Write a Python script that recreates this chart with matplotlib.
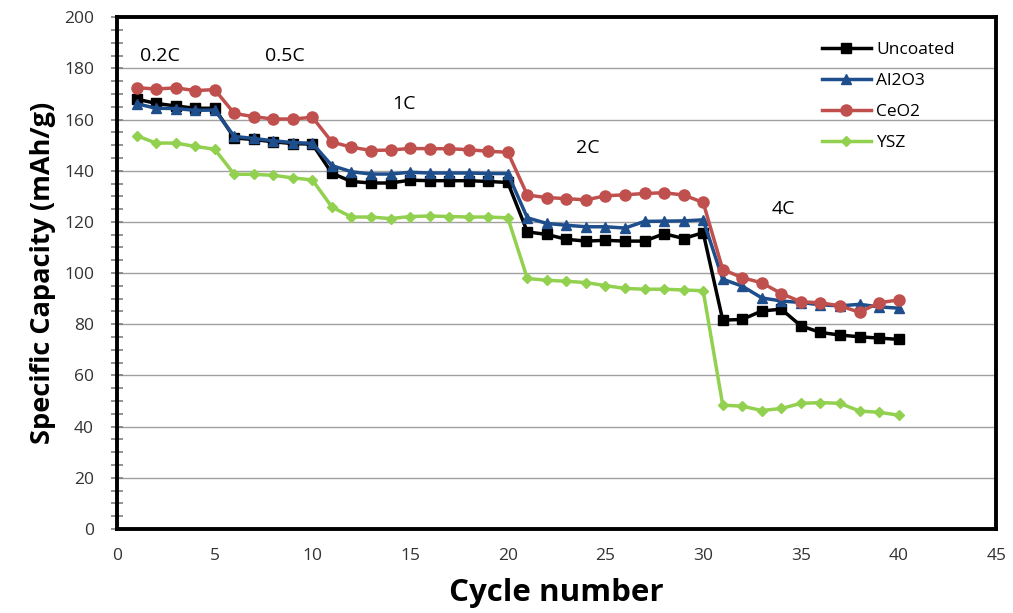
import numpy as np
import matplotlib.pyplot as plt
from matplotlib.ticker import MultipleLocator

plt.rcParams['font.family'] = ['Open Sans', 'DejaVu Sans']

cycles = np.arange(1, 41)

uncoated = [168, 166.3, 165.3, 164.4, 164.4, 152.8, 152.2, 151.3, 150.6, 150.4,
            139, 135.8, 135.2, 135.2, 136.3, 136.1, 136.1, 136.1, 135.8, 135.4,
            116.1, 115.1, 113.2, 112.5, 112.8, 112.5, 112.5, 115.4, 113.5, 115.8,
            81.6, 81.9, 85.2, 85.9, 79.4, 76.8, 75.8, 75.1, 74.6, 74.1]
al2o3 = [166.2, 164.4, 164.3, 163.6, 163.7, 153.4, 152.6, 151.7, 151.0, 150.7,
         142, 139.6, 138.7, 138.7, 139.4, 139.1, 139.1, 139.1, 138.9, 138.9,
         121.6, 119.4, 118.7, 118.1, 118.1, 117.6, 120.2, 120.3, 120.4, 120.8,
         97.6, 94.9, 90.3, 89.1, 88.5, 87.6, 87.2, 87.8, 86.8, 86.3]
ceo2 = [172.5, 171.9, 172.4, 171.3, 171.7, 162.4, 161.1, 160.2, 160.2, 160.9,
        151.2, 149.2, 147.9, 148.1, 148.7, 148.6, 148.6, 148.2, 147.6, 147.2,
        130.5, 129.5, 129.1, 128.6, 130.2, 130.6, 131.1, 131.4, 130.5, 127.6,
        101.4, 98.2, 96.2, 92, 88.8, 88.4, 87.2, 84.7, 88.4, 89.5]
ysz = [153.7, 150.8, 150.8, 149.5, 148.4, 138.6, 138.6, 138.2, 137.2, 136.4,
       125.8, 121.9, 121.9, 121.3, 122.1, 122.3, 122.1, 121.9, 121.9, 121.6,
       97.9, 97.2, 96.8, 96.3, 95.1, 94, 93.7, 93.7, 93.4, 93.1,
       48.4, 48, 46.3, 47.1, 49.1, 49.4, 49.1, 46.1, 45.6, 44.5]

rate_labels = ['0.2C', '0.5C', '1C', '2C', '4C']
rate_pos = [(2.2, 185), (8.6, 185), (14.7, 166), (24.1, 149), (34.1, 125)]

fig = plt.figure(figsize=(10.13, 6.13), dpi=100)
ax = fig.add_axes([0.1155, 0.137, 0.868, 0.835])

ax.plot(cycles, uncoated, color='black', lw=2.5, marker='s', ms=7.5, label='Uncoated')
ax.plot(cycles, al2o3, color='#1F4E8C', lw=2.5, marker='^', ms=7.5, label='Al2O3')
ax.plot(cycles, ceo2, color='#C0504D', lw=2.5, marker='o', ms=8, label='CeO2')
ax.plot(cycles, ysz, color='#92D050', lw=2.5, marker='D', ms=5, label='YSZ')

for lab, (x, y) in zip(rate_labels, rate_pos):
    ax.text(x, y, lab, fontsize=14, ha='center', va='center')

ax.set_xlim(0, 45)
ax.set_ylim(0, 200)
ax.xaxis.set_major_locator(MultipleLocator(5))
ax.yaxis.set_major_locator(MultipleLocator(20))
ax.yaxis.set_minor_locator(MultipleLocator(5))
ax.grid(axis='y', which='major', color='#a0a0a0', lw=1)
ax.set_axisbelow(True)

ax.tick_params(axis='x', length=0, labelsize=12.5, pad=14, colors='#333333')
ax.tick_params(axis='y', which='both', direction='inout', length=9, width=1.2,
               color='#808080', labelsize=12.5, labelcolor='#333333', pad=12)
for sp in ax.spines.values():
    sp.set_linewidth(2.8)
    sp.set_color('black')

ax.set_xlabel('Cycle number', fontsize=22.5, fontweight='bold', labelpad=10)
ax.set_ylabel('Specific Capacity (mAh/g)', fontsize=19.5, fontweight='bold', labelpad=6)

ax.legend(loc='upper left', bbox_to_anchor=(0.802, 0.952), frameon=False,
          fontsize=12.5, handlelength=2.8, labelspacing=0.85, handletextpad=0.3,
          borderpad=0, borderaxespad=0)

fig.savefig('out.png', dpi=100)
